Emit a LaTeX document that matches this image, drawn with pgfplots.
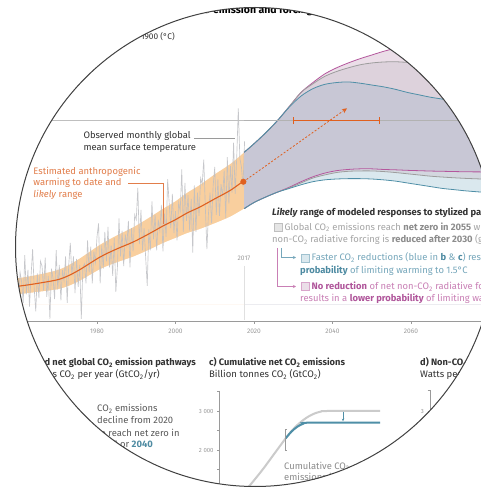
\documentclass[border=0pt]{standalone}
\usepackage{pgfplots}
\pgfplotsset{compat=1.18}
\usepackage{pgfplotstable}
\usetikzlibrary{arrows.meta}
\usepackage{fontspec}
\setmainfont{Fira Sans}

\definecolor{txt}{HTML}{333333}
\definecolor{axgray}{HTML}{9A9A9A}
\definecolor{obsgray}{HTML}{BDBEC3}
\definecolor{anth}{HTML}{E0601F}
\definecolor{anthband}{HTML}{F9CF9E}
\definecolor{anthtxt}{HTML}{E27D4A}
\definecolor{pbl}{HTML}{4F8FA7}
\definecolor{pgr}{HTML}{9D9D9D}
\definecolor{pmg}{HTML}{B4579D}
\definecolor{fA}{HTML}{EBDEE8}
\definecolor{fB}{HTML}{DDD2DC}
\definecolor{fC}{HTML}{C8C7D5}
\definecolor{fD}{HTML}{D3D7DF}
\definecolor{fE}{HTML}{DAE8EE}
\definecolor{lgtxt}{HTML}{A5A5A5}
\definecolor{lgbold}{HTML}{8C8C8C}
\definecolor{bltxt}{HTML}{76A7BB}
\definecolor{blbold}{HTML}{4E8BA2}
\definecolor{mgtxt}{HTML}{C97FB5}
\definecolor{mgbold}{HTML}{B0569B}
\definecolor{cumgray}{HTML}{CBCBCB}

\newcommand\fs[1]{\fontsize{#1}{#1}\selectfont}
\newcommand\cotwo{CO\textsubscript{2}}

% observed monthly GMST (read off, thinned)
\pgfplotstableread{
yr T
1958.0 0.30
1958.4 0.10
1958.8 0.37
1959.2 0.04
1959.6 0.21
1960.0 -0.04
1960.4 0.26
1960.8 0.18
1961.2 0.01
1961.6 0.40
1962.0 0.08
1962.4 0.28
1962.8 -0.02
1963.2 0.23
1963.6 0.45
1964.0 0.13
1964.4 -0.06
1964.8 0.25
1965.2 0.05
1965.6 0.35
1966.0 0.31
1966.4 0.11
1966.8 0.38
1967.2 0.06
1967.6 0.23
1968.0 -0.12
1968.4 0.29
1968.8 0.21
1969.2 0.04
1969.6 0.44
1970.0 0.12
1970.4 0.32
1970.8 0.03
1971.2 0.28
1971.6 0.19
1972.0 0.39
1972.4 0.01
1972.8 0.32
1973.2 0.50
1973.6 0.23
1974.0 0.39
1974.4 0.09
1974.8 0.37
1975.2 0.14
1975.6 0.32
1976.0 -0.12
1976.4 0.30
1976.8 0.33
1977.2 0.17
1977.6 0.52
1978.0 0.26
1978.4 0.47
1978.8 0.17
1979.2 0.43
1979.6 0.34
1980.0 0.55
1980.4 0.66
1980.8 0.17
1981.2 0.48
1981.6 0.29
1982.0 0.59
1982.4 0.35
1982.8 0.63
1983.2 0.30
1983.6 0.48
1984.0 0.23
1984.4 0.54
1984.8 0.10
1985.2 0.30
1985.6 0.70
1986.0 0.39
1986.4 0.60
1986.8 0.31
1987.2 0.57
1987.6 0.48
1988.0 0.68
1988.4 0.30
1988.8 0.62
1989.2 0.43
1989.6 0.73
1990.0 0.69
1990.4 0.95
1990.8 0.49
1991.2 0.77
1991.6 0.44
1992.0 0.62
1992.4 0.38
1992.8 0.15
1993.2 0.61
1993.6 0.44
1994.0 0.84
1994.4 0.53
1994.8 0.73
1995.2 0.44
1995.6 0.69
1996.0 0.60
1996.4 0.81
1996.8 0.43
1997.2 0.74
1997.6 0.55
1998.0 1.02
1998.4 0.82
1998.8 0.62
1999.2 0.90
1999.6 0.58
2000.0 0.76
2000.4 0.52
2000.8 0.83
2001.2 0.76
2001.6 1.10
2002.0 0.59
2002.4 0.99
2002.8 0.68
2003.2 0.89
2003.6 0.60
2004.0 0.86
2004.4 0.42
2004.8 0.97
2005.2 0.59
2005.6 0.91
2006.0 0.72
2006.4 1.03
2006.8 0.98
2007.2 1.18
2007.6 0.79
2008.0 0.45
2008.4 0.74
2008.8 0.91
2009.2 0.66
2009.6 0.97
2010.0 1.12
2010.4 0.73
2010.8 1.02
2011.2 0.72
2011.6 0.98
2012.0 0.88
2012.4 1.09
2012.8 0.70
2013.2 1.20
2013.6 0.82
2014.0 1.13
2014.4 0.91
2014.8 1.32
2015.2 0.90
2015.6 1.20
2016.0 1.60
2016.4 1.19
2016.8 1.12
2017.2 0.96
2017.6 1.33
}\obs

% estimated anthropogenic warming and likely range
\pgfplotstableread{
yr T up lo
1958.0 0.140 0.205 0.075
1960.4 0.148 0.214 0.082
1965.0 0.170 0.240 0.100
1970.6 0.205 0.285 0.125
1975.0 0.270 0.360 0.180
1980.8 0.385 0.485 0.285
1985.0 0.450 0.560 0.340
1989.2 0.507 0.627 0.387
1993.0 0.570 0.700 0.440
1996.8 0.638 0.778 0.498
2000.0 0.690 0.840 0.540
2003.0 0.745 0.910 0.580
2006.2 0.793 0.973 0.613
2010.0 0.860 1.060 0.660
2014.0 0.930 1.145 0.715
2017.5 1.010 1.240 0.780
}\anth

% modeled response ranges: upper/lower for blue, grey, purple
\pgfplotstableread{
yr bu gu mu bl gl ml
2017.5 1.24 1.24 1.24 0.78 0.78 0.78
2020 1.31 1.31 1.31 0.83 0.83 0.83
2023 1.40 1.40 1.40 0.875 0.875 0.875
2026 1.50 1.50 1.50 0.915 0.915 0.915
2029 1.61 1.615 1.615 0.945 0.95 0.955
2032 1.70 1.73 1.73 0.975 0.99 1.00
2035 1.76 1.80 1.81 1.00 1.03 1.04
2038 1.795 1.86 1.88 1.015 1.055 1.07
2041 1.81 1.90 1.93 1.022 1.075 1.09
2044 1.815 1.93 1.97 1.025 1.085 1.10
2047 1.805 1.955 2.005 1.025 1.088 1.105
2050 1.79 1.97 2.035 1.022 1.088 1.105
2053 1.775 1.978 2.065 1.015 1.083 1.10
2056 1.755 1.98 2.09 1.005 1.075 1.097
2059 1.73 1.975 2.115 0.99 1.065 1.093
2062 1.71 1.97 2.135 0.975 1.055 1.09
2065 1.69 1.965 2.155 0.96 1.045 1.087
2068 1.675 1.96 2.17 0.945 1.038 1.085
2071 1.66 1.955 2.185 0.935 1.032 1.083
2074 1.645 1.95 2.20 0.925 1.027 1.081
2078 1.63 1.945 2.215 0.915 1.022 1.08
}\proj

% cumulative CO2 (GtCO2)
\pgfplotstableread{
yr v
1964 420
1975 620
1987 1000
2000 1480
2010 1890
2020 2300
2025 2486
2030 2643
2035 2771
2040 2871
2045 2943
2050 2986
2055 3000
2100 3000
}\cumgr
\pgfplotstableread{
yr v
2020 2300
2025 2475
2030 2600
2035 2675
2040 2700
2100 2700
}\cumbl

\begin{document}
\begin{tikzpicture}
\path[use as bounding box] (0,0) rectangle (480pt,488pt);
\begin{scope}
\clip (255pt,241pt) circle (239.5pt);
\fill[white] (0,0) rectangle (480pt,488pt);

% ---- panel a ----
\begin{axis}[
  at={(10.65pt,167pt)}, anchor=south west,
  width=478.85pt, height=322.9pt, scale only axis,
  xmin=1958, xmax=2080, ymin=-0.138, ymax=2.5,
  axis x line*=bottom, axis y line*=left, ytick=\empty,
  axis on top,
  axis line style={draw=axgray, line width=0.6pt},
  xtick={1960,1980,...,2080},
  tick align=outside, major tick length=3pt,
  tick style={draw=axgray, line width=0.5pt},
  xticklabel style={font=\fs{6.6}, text=axgray, yshift=-1pt},
  /pgf/number format/1000 sep={},
  /pgf/number format/assume math mode=true,
]
% likely range of anthropogenic warming
\addplot[draw=none, fill=anthband, smooth] table[x=yr,y=up]{\anth} \closedcycle;
\addplot[draw=none, fill=white, smooth] table[x=yr,y=lo]{\anth} \closedcycle;
\addplot[obsgray, line width=0.65pt, opacity=0.85] table[x=yr,y=T]{\obs};
\addplot[anth, line width=1.1pt, smooth] table[x=yr,y=T]{\anth};
\addplot[black!25, line width=0.5pt] coordinates {(1958,1.5) (2017.5,1.5)};

% modeled response plumes, stacked from the top down
\addplot[draw=none, fill=fA, smooth] table[x=yr,y=mu]{\proj} \closedcycle;
\addplot[draw=none, fill=fB, smooth] table[x=yr,y=gu]{\proj} \closedcycle;
\addplot[draw=none, fill=fC, smooth] table[x=yr,y=bu]{\proj} \closedcycle;
\addplot[draw=none, fill=fD, smooth] table[x=yr,y=ml]{\proj} \closedcycle;
\addplot[draw=none, fill=fE, smooth] table[x=yr,y=gl]{\proj} \closedcycle;
\addplot[draw=none, fill=white, smooth] table[x=yr,y=bl]{\proj} \closedcycle;

\addplot[pmg, line width=0.8pt, smooth] table[x=yr,y=mu]{\proj};
\addplot[pmg, line width=0.8pt, smooth] table[x=yr,y=ml]{\proj};
\addplot[pgr, line width=0.8pt, smooth] table[x=yr,y=gu]{\proj};
\addplot[pgr, line width=0.8pt, smooth] table[x=yr,y=gl]{\proj};
\addplot[pbl, line width=0.8pt, smooth] table[x=yr,y=bu]{\proj};
\addplot[pbl, line width=0.8pt, smooth] table[x=yr,y=bl]{\proj};

\addplot[black!30, line width=0.5pt] coordinates {(2017.5,1.5) (2080,1.5)};
\addplot[anth, line width=1.1pt] coordinates {(2030,1.5) (2052,1.5)};
\addplot[anth, line width=0.8pt] coordinates {(2030,1.47) (2030,1.53)};
\addplot[anth, line width=0.8pt] coordinates {(2052,1.47) (2052,1.53)};
\addplot[anth, line width=0.8pt, dash pattern=on 2pt off 1.8pt, -{Stealth[length=5pt,width=4.5pt]}]
  coordinates {(2017.3,1.0) (2043.7,1.60)};
\addplot[only marks, mark=*, mark size=2.8pt, anth] coordinates {(2017.3,1.0)};
\end{axis}

% ---- panel c ----
\begin{axis}[
  at={(219.6pt,-40pt)}, anchor=south west,
  width=160.5pt, height=136.5pt, scale only axis,
  xmin=1964, xmax=2100, ymin=0, ymax=3500,
  axis y line*=left, axis x line*=bottom, xtick=\empty,
  axis line style={draw=axgray, line width=0.6pt},
  ytick={1500,2000,2500,3000,3500}, yticklabels={,2 000,,3 000,},
  tick align=outside, major tick length=2.5pt,
  tick style={draw=axgray, line width=0.5pt},
  yticklabel style={font=\fs{6}, text=axgray},
  /pgf/number format/assume math mode=true,
]
\addplot[cumgray, line width=2pt, smooth] table[x=yr,y=v]{\cumgr};
\addplot[pbl, line width=2pt, smooth] table[x=yr,y=v]{\cumbl};
\addplot[pbl, line width=0.6pt, -{Stealth[length=2.5pt,width=2.5pt]}] coordinates {(2068.6,2975) (2068.6,2740)};
\end{axis}

% ---- panel d ----
\begin{axis}[
  at={(430pt,-49pt)}, anchor=south west,
  width=40pt, height=147pt, scale only axis,
  xmin=0, xmax=1, ymin=0, ymax=3.5,
  axis y line*=left, axis x line*=bottom, xtick=\empty,
  axis line style={draw=axgray, line width=0.6pt},
  ytick={3,3.5}, yticklabels={3,},
  tick align=outside, major tick length=2.5pt,
  tick style={draw=axgray, line width=0.5pt},
  yticklabel style={font=\fs{6}, text=axgray},
  /pgf/number format/assume math mode=true,
]
\addplot[draw=none] coordinates {(0.5,0.5) (0.6,0.6)};
\end{axis}

% ---- annotations (pixel frame, y down) ----
\begin{scope}[x=1pt, y=-1pt, shift={(0pt,488pt)}, every node/.style={inner sep=0pt}]
\draw[black!12, line width=0.6pt] (244.5,266) -- (244.5,320);
\node[anchor=base, font=\fs{6.6}, text=axgray] at (244,260.5) {2017};

\node[anchor=base east, font=\bfseries\fs{10.5}, text=black] at (209,14) {a) Observed global temperature change and modeled responses to stylized anthropogenic};
\node[anchor=base west, font=\bfseries\fs{10.5}, text=black] at (213,14) {emission and forcing pathways};
\node[anchor=base east, font=\fs{8.3}, text=txt] at (175,40) {Global warming relative to 1850--1900 (°C)};

\node[anchor=base west, font=\fs{9.4}, text=txt] at (83.3,139) {Observed monthly global};
\node[anchor=base west, font=\fs{9.4}, text=txt] at (83.3,151) {mean surface temperature};
\draw[axgray, line width=0.5pt] (194,138.5) -- (235,138.5);

\node[anchor=base west, font=\fs{9.4}, text=anthtxt] at (33.3,174.5) {Estimated anthropogenic};
\node[anchor=base west, font=\fs{9.4}, text=anthtxt] at (33.3,186) {warming to date and};
\node[anchor=base west, font=\fs{9.4}, text=anthtxt] at (33.3,197.5) {\textit{likely} range};
\draw[anthtxt, line width=0.5pt] (128,183) -- (163,183) -- (163,224);

\node[anchor=base west, font=\bfseries\fs{9.4}, text=txt] at (272,216) {\textit{Likely} range of modeled responses to stylized pathways};
\draw[fill=black!10, draw=black!25, line width=0.5pt] (274,223.5) rectangle (282,231.5);
\node[anchor=base west, font=\fs{9.4}, text=lgtxt] at (284.5,230.5) {Global \cotwo{} emissions reach \textbf{\color{lgbold}net zero in 2055} while};
\node[anchor=base west, font=\fs{9.4}, text=lgtxt] at (272,243) {non-\cotwo{} radiative forcing is \textbf{\color{lgbold}reduced after 2030} (grey in b, c \& d)};

\draw[bltxt, line width=0.5pt, -{Stealth[length=3pt,width=3pt]}] (281,248) -- (281,257.5) -- (296,257.5);
\draw[fill=fE, draw=bltxt!70, line width=0.5pt] (301,254) rectangle (309,262);
\node[anchor=base west, font=\fs{9.4}, text=bltxt] at (311.5,261) {Faster \cotwo{} reductions (blue in \textbf{\color{blbold}b} \& \textbf{\color{blbold}c}) result in a higher};
\node[anchor=base west, font=\fs{9.4}, text=bltxt] at (300,274) {\textbf{\color{blbold}probability} of limiting warming to 1.5°C};

\draw[mgtxt, line width=0.5pt, -{Stealth[length=3pt,width=3pt]}] (277.5,248) -- (277.5,286.5) -- (296,286.5);
\draw[fill=fA, draw=mgtxt!70, line width=0.5pt] (301,282.5) rectangle (309,290.5);
\node[anchor=base west, font=\fs{9.4}, text=mgtxt] at (311.5,290) {\textbf{\color{mgbold}No reduction} of net non-\cotwo{} radiative forcing (purple in d)};
\node[anchor=base west, font=\fs{9.4}, text=mgtxt] at (300,302) {results in a \textbf{\color{mgbold}lower probability} of limiting warming to 1.5°C};

\node[anchor=base east, font=\bfseries\fs{9.3}, text=txt] at (196,366) {b) Stylized net global \cotwo{} emission pathways};
\node[anchor=base east, font=\fs{9.5}, text=txt] at (160,378) {Billion tonnes \cotwo{} per year (Gt\cotwo/yr)};
\node[anchor=base west, font=\bfseries\fs{9.3}, text=txt] at (209,366) {c) Cumulative net \cotwo{} emissions};
\node[anchor=base west, font=\fs{9.5}, text=txt] at (209,378) {Billion tonnes \cotwo{} (Gt\cotwo)};
\node[anchor=base west, font=\bfseries\fs{9.3}, text=txt] at (420,366) {d) Non-\cotwo{} radiative forcing pathways};
\node[anchor=base west, font=\fs{9.5}, text=txt] at (420,378) {Watts per square metre (W/m\textsuperscript{2})};

\node[anchor=base west, font=\fs{9.4}, text=black!65] at (97,412) {\cotwo{} emissions};
\node[anchor=base west, font=\fs{9.4}, text=black!65] at (97,424) {decline from 2020};
\node[anchor=base west, font=\fs{9.4}, text=black!65] at (97,436) {to reach net zero in};
\node[anchor=base west, font=\fs{9.4}, text=black!65] at (97,447.5) {\textbf{2055} or \textbf{\color{blbold}2040}};

\draw[axgray, line width=0.5pt] (287,429) -- (285,429) -- (285,450) -- (287,450);
\node[anchor=base west, font=\fs{9.4}, text=black!45] at (284,469) {Cumulative \cotwo{}};
\node[anchor=base west, font=\fs{9.4}, text=black!45] at (284,481) {emissions in pathways};
\end{scope}
\end{scope}
\draw[black!75, line width=1pt] (255pt,241pt) circle (239.5pt);
\end{tikzpicture}
\end{document}
